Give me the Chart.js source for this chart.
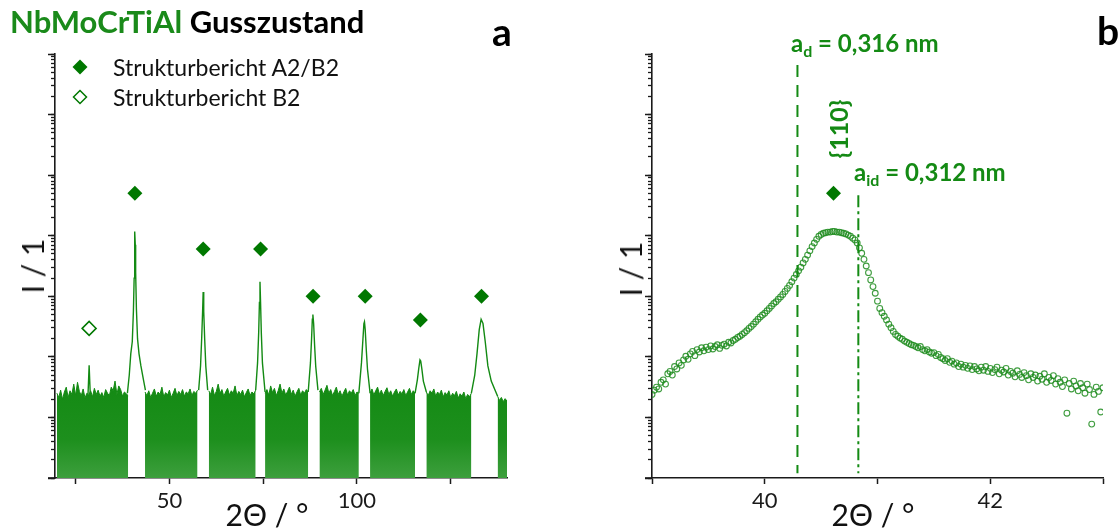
<!DOCTYPE html>
<html>
<head>
<meta charset="utf-8">
<script src="https://cdn.jsdelivr.net/npm/chart.js@4.4.1/dist/chart.umd.min.js"></script>
<style>
  body { margin: 0; background: #fff; }
  #wrap { position: relative; width: 1119px; height: 529px; overflow: hidden; background: #fff;
          font-family: Lato, "Open Sans", sans-serif; color: #111; }
  canvas { position: absolute; top: 0; }
  .t { position: absolute; white-space: nowrap; line-height: 1; }
  .c { transform: translate(-50%, -50%); }
  .v { transform: translate(-50%, -50%) rotate(-90deg); }
  .g { color: #148a14; font-weight: 700; }
  sub { font-size: 16px; vertical-align: -5px; line-height: 0; }
</style>
</head>
<body>
<div id="wrap">
  <canvas id="ca" width="560" height="529" style="left:0"></canvas>
  <canvas id="cb" width="559" height="529" style="left:560px"></canvas>

  <div class="t" style="left:10px;top:21px;transform:translateY(-50%);font-size:31px;font-weight:700;">
    <span style="color:#1a8a1a">NbMoCrTiAl</span> <span style="color:#000">Gusszustand</span></div>
  <div class="t c" style="left:502px;top:31px;font-size:39px;font-weight:700;color:#000">a</div>
  <div class="t c" style="left:1108px;top:30px;font-size:39px;font-weight:700;color:#000">b</div>

  <div class="t" style="left:113px;top:67px;transform:translateY(-50%);font-size:23px;">Strukturbericht A2/B2</div>
  <div class="t" style="left:113px;top:97px;transform:translateY(-50%);font-size:23px;">Strukturbericht B2</div>

  <div class="t v" style="left:32px;top:266px;font-size:30px;">I / 1</div>
  <div class="t c" style="left:267px;top:514px;font-size:30px;">2&Theta; / &deg;</div>
  <div class="t v" style="left:630px;top:269px;font-size:30px;">I / 1</div>
  <div class="t c" style="left:873px;top:514px;font-size:30px;">2&Theta; / &deg;</div>

  <div class="t g" style="left:791px;top:43px;transform:translateY(-50%);font-size:24px;">a<sub>d</sub> = 0,316 nm</div>
  <div class="t g v" style="left:838px;top:129px;font-size:25px;">{110}</div>
  <div class="t g" style="left:854px;top:172px;transform:translateY(-50%);font-size:24px;">a<sub>id</sub> = 0,312 nm</div>
</div>

<script>
// ================= DATA (log10 of intensity) =================
// Panel a: upper edge of the noisy background band (null = band interrupted by a peak)
const bandX = [
  20.0,20.5,21.0,21.5,22.0,22.5,23.0,23.5,24.0,24.5,25.0,25.5,26.0,26.5,27.0,27.5,28.0,28.5,29.0,29.5,
  30.0,30.5,31.0,31.5,32.0,32.5,33.0,33.5,34.0,34.5,35.0,35.5,36.0,36.5,37.0,37.5,38.0,38.5,39.0,41.0,
  43.5,44.0,44.5,45.0,45.5,46.0,46.5,47.0,47.5,48.0,48.5,49.0,49.5,50.0,50.5,51.0,51.5,52.0,52.5,53.0,
  53.5,54.0,54.5,55.0,55.5,56.0,56.5,57.0,57.5,59.0,
  60.5,61.0,61.5,62.0,62.5,63.0,63.5,64.0,64.5,65.0,65.5,66.0,66.5,67.0,67.5,68.0,68.5,69.0,69.5,70.0,
  70.5,71.0,71.5,72.0,72.5,73.0,74.0,
  75.5,76.0,76.5,77.0,77.5,78.0,78.5,79.0,79.5,80.0,80.5,81.0,81.5,82.0,82.5,83.0,83.5,84.0,84.5,85.0,
  85.5,86.0,86.5,87.0,88.0,
  90.0,90.5,91.0,91.5,92.0,92.5,93.0,93.5,94.0,94.5,95.0,95.5,96.0,96.5,97.0,97.5,98.0,98.5,99.0,99.5,
  100.0,100.5,102.0,
  103.5,104.0,104.5,105.0,105.5,106.0,106.5,107.0,107.5,108.0,108.5,109.0,109.5,110.0,110.5,111.0,111.5,
  112.0,112.5,113.0,113.5,114.0,114.5,115.0,115.5,117.0,
  118.5,119.0,119.5,120.0,120.5,121.0,121.5,122.0,122.5,123.0,123.5,124.0,124.5,125.0,125.5,126.0,126.5,
  127.0,127.5,128.0,128.5,129.0,129.5,130.0,130.5,133.0,
  137.5,138.0,138.5,139.0,139.5,140.0
];
const bandLog = [
  1.40,1.33,1.45,1.30,1.42,1.50,1.33,1.44,1.38,1.55,1.36,1.58,1.43,1.36,1.47,1.32,1.40,1.37,1.44,1.34,
  1.48,1.38,1.45,1.35,1.41,1.33,1.46,1.40,1.36,1.50,1.44,1.60,1.38,1.52,1.46,1.35,1.42,1.39,1.36,null,
  1.42,1.36,1.44,1.33,1.40,1.47,1.35,1.42,1.38,1.50,1.34,1.41,1.37,1.45,1.33,1.40,1.48,1.36,1.43,1.38,
  1.46,1.35,1.42,1.39,1.47,1.36,1.43,1.40,1.45,null,
  1.44,1.38,1.50,1.36,1.43,1.55,1.40,1.46,1.35,1.42,1.48,1.37,1.44,1.40,1.52,1.36,1.43,1.38,1.45,1.34,
  1.41,1.47,1.36,1.42,1.39,1.45,null,
  1.40,1.46,1.37,1.52,1.41,1.48,1.36,1.44,1.55,1.40,1.47,1.37,1.43,1.50,1.38,1.45,1.35,1.42,1.48,1.37,
  1.44,1.40,1.46,1.42,null,
  1.42,1.48,1.38,1.45,1.53,1.40,1.46,1.36,1.43,1.50,1.38,1.44,1.35,1.42,1.48,1.37,1.44,1.40,1.46,1.36,
  1.42,1.40,null,
  1.40,1.47,1.37,1.44,1.50,1.38,1.45,1.36,1.43,1.49,1.38,1.44,1.35,1.42,1.47,1.37,1.43,
  1.39,1.46,1.36,1.42,1.48,1.38,1.44,1.40,null,
  1.42,1.36,1.44,1.40,1.47,1.35,1.42,1.38,1.45,1.34,1.41,1.37,1.44,1.33,1.40,1.36,1.43,
  1.32,1.39,1.35,1.42,1.31,1.38,1.34,1.40,null,
  1.35,1.28,1.33,1.26,1.31,1.27
];
// Panel a: reflection profiles rising out of the background (null = break between peaks)
const peakX = [
  28.3,28.6,28.9,30.0,
  38.8,39.3,39.7,40.1,40.4,40.6,40.7,40.8,40.9,41.0,41.2,41.5,41.9,42.4,43.0,43.6,50.0,
  57.8,58.3,58.6,58.85,59.0,59.15,59.4,59.7,60.2,65.0,
  73.0,73.5,73.8,74.0,74.15,74.3,74.5,74.8,75.5,80.0,
  87.0,87.6,87.9,88.1,88.25,88.45,88.7,89.0,89.6,95.0,
  100.5,101.2,101.6,101.85,102.0,102.2,102.5,102.8,103.5,110.0,
  115.5,116.1,116.5,116.8,117.0,117.3,117.7,118.5,125.0,
  130.5,131.4,132.0,132.6,133.1,133.6,134.2,134.9,135.8,137.5
];
const peakLog = [
  1.38,1.86,1.38,null,
  1.40,1.70,2.05,2.25,2.75,3.30,3.80,4.07,3.85,3.40,2.80,2.30,2.05,1.85,1.65,1.45,null,
  1.45,1.85,2.30,2.75,3.07,2.75,2.30,1.85,1.45,null,
  1.45,1.90,2.40,2.90,3.24,2.90,2.40,1.90,1.42,null,
  1.42,1.90,2.30,2.62,2.70,2.55,2.20,1.85,1.45,null,
  1.40,1.90,2.30,2.55,2.58,2.45,2.10,1.80,1.40,null,
  1.40,1.62,1.82,1.95,1.93,1.80,1.60,1.42,null,
  1.40,1.70,2.05,2.45,2.62,2.55,2.25,1.85,1.60,1.35
];
// Panel a: reflection markers
const a2b2X   = [40.8, 59.0, 74.3, 88.3, 102.2, 116.9, 133.2];
const a2b2Log = [4.70, 3.78, 3.78, 3.00, 3.00, 2.61, 3.00];
const b2X   = [28.6];
const b2Log = [2.47];
const xTicksA  = [25, 50, 75, 100, 125];
const xLabelsA = [50, 100];

// Panel b: measured points around the {110} reflection
const scanX = [
  39.00,39.02,39.04,39.06,39.08,39.10,39.12,39.14,39.16,39.18,
  39.20,39.22,39.24,39.26,39.28,39.30,39.32,39.34,39.36,39.38,
  39.40,39.42,39.44,39.46,39.48,39.50,39.52,39.54,39.56,39.58,
  39.60,39.62,39.64,39.66,39.68,39.70,39.72,39.74,39.76,39.78,
  39.80,39.82,39.84,39.86,39.88,39.90,39.92,39.94,39.96,39.98,
  40.00,40.02,40.04,40.06,40.08,40.10,40.12,40.14,40.16,40.18,
  40.20,40.22,40.24,40.26,40.28,40.30,40.32,40.34,40.36,40.38,
  40.40,40.42,40.44,40.46,40.48,40.50,40.52,40.54,40.56,40.58,
  40.60,40.62,40.64,40.66,40.68,40.70,40.72,40.74,40.76,40.78,
  40.80,40.82,40.84,40.86,40.88,40.90,40.92,40.94,40.96,40.98,
  41.00,41.02,41.04,41.06,41.08,41.10,41.12,41.14,41.16,41.18,
  41.20,41.22,41.24,41.26,41.28,41.30,41.32,41.34,41.36,41.38,
  41.40,41.42,41.44,41.46,41.48,41.50,41.52,41.54,41.56,41.58,
  41.60,41.62,41.64,41.66,41.68,41.70,41.72,41.74,41.76,41.78,
  41.80,41.82,41.84,41.86,41.88,41.90,41.92,41.94,41.96,41.98,
  42.00,42.02,42.04,42.06,42.08,42.10,42.12,42.14,42.16,42.18,
  42.20,42.22,42.24,42.26,42.28,42.30,42.32,42.34,42.36,42.38,
  42.40,42.42,42.44,42.46,42.48,42.50,42.52,42.54,42.56,42.58,
  42.60,42.62,42.64,42.66,42.68,42.70,42.72,42.74,42.76,42.78,
  42.80,42.82,42.84,42.86,42.88,42.90,42.92,42.94,42.96,42.98,
  43.00
];
const scanLog = [
  1.38,1.45,1.50,1.47,1.58,1.62,1.55,1.72,1.76,1.70,
  1.84,1.80,1.90,1.86,1.95,2.01,1.96,2.05,2.09,2.02,
  2.12,2.08,2.15,2.10,2.16,2.12,2.18,2.13,2.17,2.20,
  2.14,2.19,2.21,2.18,2.24,2.23,2.27,2.29,2.32,2.34,
  2.37,2.40,2.43,2.47,2.50,2.54,2.58,2.62,2.66,2.69,
  2.72,2.76,2.80,2.84,2.88,2.91,2.95,2.99,3.03,3.08,
  3.13,3.18,3.24,3.30,3.36,3.42,3.48,3.55,3.61,3.68,
  3.75,3.82,3.88,3.94,3.99,4.02,4.04,4.05,4.06,4.06,
  4.07,4.07,4.06,4.06,4.05,4.04,4.03,4.01,3.99,3.96,
  3.93,3.88,3.80,3.71,3.61,3.50,3.39,3.27,3.16,3.05,
  2.92,2.80,2.73,2.67,2.61,2.54,2.48,2.42,2.37,2.34,
  2.31,2.29,2.26,2.24,2.22,2.20,2.19,2.17,2.15,2.17,
  2.12,2.10,2.12,2.08,2.06,2.07,2.02,2.04,1.99,1.97,
  1.94,1.97,1.91,1.93,1.88,1.90,1.84,1.88,1.83,1.86,
  1.81,1.85,1.79,1.84,1.80,1.77,1.83,1.78,1.84,1.76,
  1.81,1.74,1.79,1.83,1.72,1.78,1.75,1.81,1.70,1.76,
  1.73,1.67,1.77,1.71,1.66,1.74,1.69,1.62,1.72,1.66,
  1.70,1.60,1.68,1.63,1.72,1.58,1.66,1.61,1.69,1.55,
  1.64,1.58,1.51,1.62,1.07,1.56,1.47,1.60,1.52,1.44,
  1.56,1.49,1.40,1.55,1.46,0.89,1.38,1.50,1.43,1.09,
  1.49
];
const markBX   = [40.61];
const markBLog = [4.70];
const refX       = [40.29, 40.83];   // a_d (dashed), a_id (dash-dot)
const refTopLog  = [6.82, 4.67];
const refBotLog  = 0.08;
const xTicksB  = [39, 40, 41, 42, 43];
const xLabelsB = [40, 42];

const yMajorExp = [0, 1, 2, 3, 4, 5, 6, 7];

// ================= helpers =================
const toI = v => (v === null ? null : Math.pow(10, v));
const pts = (xs, ls) => xs.map((x, i) => ({ x: x, y: toI(ls[i]) }));
const yMajorTicks = yMajorExp.map(e => Math.pow(10, e));
const yMinorTicks = [];
yMajorExp.slice(0, -1).forEach(e => { for (let k = 1; k <= 9; k++) yMinorTicks.push(k * Math.pow(10, e)); });
yMinorTicks.push(Math.pow(10, yMajorExp[yMajorExp.length - 1]));

const GREEN = '#138a13';
const DARK = '#007800';
const AXIS = '#1a1a1a';

Chart.defaults.font.family = 'Lato, "Open Sans", sans-serif';
Chart.defaults.color = '#1a1a1a';

function yScales(outerWidth) {
  return {
    y: {
      type: 'logarithmic', position: 'left', weight: 0, min: 1, max: 1e7,
      afterBuildTicks: s => { s.ticks = yMinorTicks.map(v => ({ value: v })); },
      afterFit: s => { s.width = 0; },
      ticks: { display: false },
      grid: { drawOnChartArea: false, drawTicks: true, tickLength: 4, tickColor: AXIS, tickWidth: 1.3 },
      border: { display: true, color: AXIS, width: 1.6 }
    },
    yMaj: {
      type: 'logarithmic', position: 'left', weight: 1, min: 1, max: 1e7,
      afterBuildTicks: s => { s.ticks = yMajorTicks.map(v => ({ value: v })); },
      afterFit: s => { s.width = outerWidth; },
      ticks: { display: false },
      grid: { drawOnChartArea: false, drawTicks: true, tickLength: 7, tickColor: AXIS, tickWidth: 1.5 },
      border: { display: false }
    }
  };
}
function xScale(min, max, tickVals, labelVals) {
  return {
    type: 'linear', position: 'bottom', min: min, max: max,
    afterBuildTicks: s => { s.ticks = tickVals.map(v => ({ value: v })); },
    afterFit: s => { s.height = 51; },
    ticks: {
      autoSkip: false, maxRotation: 0, padding: 4, color: '#1a1a1a',
      font: { size: 22 },
      callback: v => (labelVals.includes(v) ? String(v) : '')
    },
    grid: { drawOnChartArea: false, drawTicks: true, tickLength: 6, tickColor: AXIS, tickWidth: 1.5 },
    border: { display: true, color: AXIS, width: 1.6 }
  };
}

// x axis line continues a few pixels to the left of the y axis (as in the original plot)
const axisOverhang = {
  id: 'axisOverhang',
  afterDraw(chart) {
    const ctx = chart.ctx, a = chart.chartArea;
    ctx.save();
    ctx.strokeStyle = AXIS; ctx.lineWidth = 1.6;
    ctx.beginPath(); ctx.moveTo(a.left - 7, a.bottom); ctx.lineTo(a.left, a.bottom); ctx.stroke();
    ctx.restore();
  }
};

const baseOpts = {
  responsive: false, animation: false, devicePixelRatio: 1,
  plugins: { legend: { display: false }, tooltip: { enabled: false } },
  events: []
};

// legend markers of panel a
const legendMarks = {
  id: 'legendMarks',
  afterDraw(chart) {
    const ctx = chart.ctx;
    const diamond = (x, y, r) => {
      ctx.beginPath();
      ctx.moveTo(x, y - r); ctx.lineTo(x + r, y); ctx.lineTo(x, y + r); ctx.lineTo(x - r, y); ctx.closePath();
    };
    ctx.save();
    diamond(80, 67, 7.5); ctx.fillStyle = DARK; ctx.fill();
    diamond(80, 97, 6.5); ctx.strokeStyle = DARK; ctx.lineWidth = 1.5; ctx.fillStyle = '#fff'; ctx.fill(); ctx.stroke();
    ctx.restore();
  }
};

// band fill: denser green at the top, lighter toward the bottom where the noise thins out
function bandFill(context) {
  const chart = context.chart, a = chart.chartArea;
  if (!a) return GREEN;
  const y0 = chart.scales.y.getPixelForValue(toI(1.6));
  const g = chart.ctx.createLinearGradient(0, y0, 0, a.bottom);
  g.addColorStop(0, '#138a13');
  g.addColorStop(0.6, '#1d8f1d');
  g.addColorStop(1, '#3d9f3d');
  return g;
}

// ================= Panel a =================
new Chart(document.getElementById('ca'), {
  type: 'scatter',
  data: {
    datasets: [
      { data: pts(bandX, bandLog), showLine: true, spanGaps: false, fill: 'start',
        backgroundColor: bandFill, borderColor: GREEN, borderWidth: 1, pointRadius: 0, tension: 0 },
      { data: pts(peakX, peakLog), showLine: true, spanGaps: false, fill: false,
        borderColor: GREEN, borderWidth: 1.4, pointRadius: 0, tension: 0 },
      { data: pts(a2b2X, a2b2Log), pointStyle: 'rectRot', pointRadius: 7.5,
        backgroundColor: DARK, borderColor: DARK, borderWidth: 0 },
      { data: pts(b2X, b2Log), pointStyle: 'rectRot', pointRadius: 7,
        backgroundColor: '#fff', borderColor: DARK, borderWidth: 1.5 }
    ]
  },
  options: Object.assign({}, baseOpts, {
    layout: { padding: { left: 0, right: 53, top: 54, bottom: 0 } },
    scales: Object.assign({ x: xScale(19.5, 140, xTicksA, xLabelsA) }, yScales(55))
  }),
  plugins: [legendMarks, axisOverhang]
});

// ================= Panel b =================
new Chart(document.getElementById('cb'), {
  type: 'scatter',
  data: {
    datasets: [
      { data: [{ x: refX[0], y: toI(refTopLog[0]) }, { x: refX[0], y: toI(refBotLog) }],
        showLine: true, borderColor: GREEN, borderWidth: 2, borderDash: [12, 8], pointRadius: 0, fill: false },
      { data: [{ x: refX[1], y: toI(refTopLog[1]) }, { x: refX[1], y: toI(refBotLog) }],
        showLine: true, borderColor: GREEN, borderWidth: 2, borderDash: [12, 4, 3, 4], pointRadius: 0, fill: false },
      { data: pts(scanX, scanLog), pointStyle: 'circle', pointRadius: 2.9,
        backgroundColor: 'rgba(255,255,255,0)', borderColor: 'rgba(30,140,30,0.85)', borderWidth: 1.1 },
      { data: pts(markBX, markBLog), pointStyle: 'rectRot', pointRadius: 7.5,
        backgroundColor: DARK, borderColor: DARK, borderWidth: 0 }
    ]
  },
  options: Object.assign({}, baseOpts, {
    layout: { padding: { left: 0, right: 16, top: 54, bottom: 0 } },
    scales: Object.assign({ x: xScale(39, 43, xTicksB, xLabelsB) }, yScales(92))
  }),
  plugins: [axisOverhang]
});
</script>
</body>
</html>
